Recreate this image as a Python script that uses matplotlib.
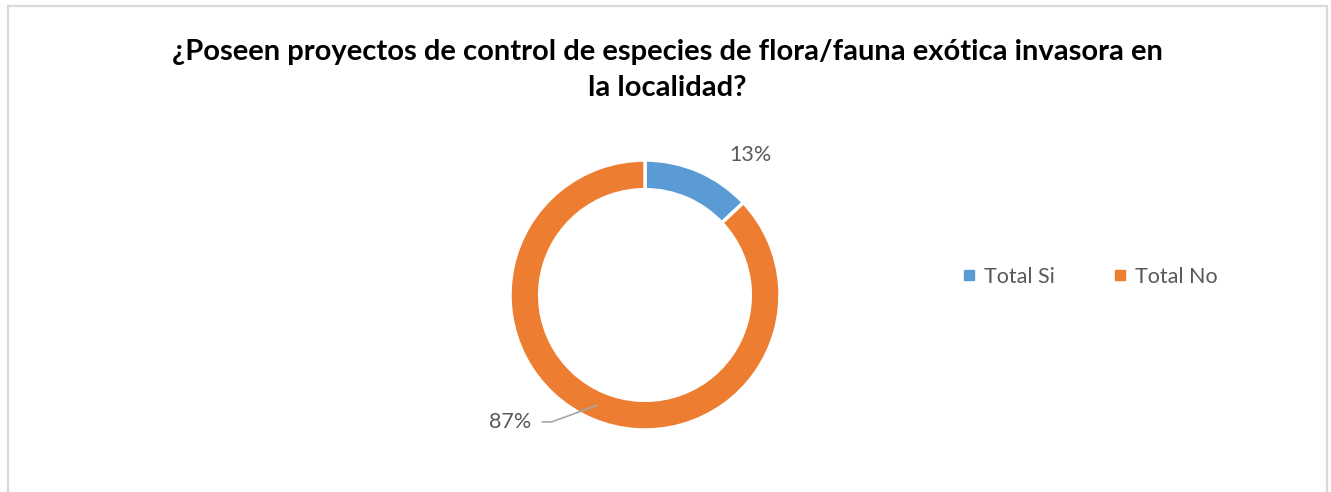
import matplotlib

matplotlib.use("Agg")

import matplotlib.pyplot as plt
import numpy as np
from matplotlib.patches import Rectangle
from matplotlib.lines import Line2D

plt.rcParams["font.family"] = ["Lato", "DejaVu Sans"]

TITLE = "¿Poseen proyectos de control de especies de flora/fauna exótica invasora en\nla localidad?"
categories = ["Total Si", "Total No"]
shares = [13, 87]
colors = ["#5B9BD5", "#ED7D31"]
label_color = "#595959"

W, H = 1331, 492
fig = plt.figure(figsize=(W / 100, H / 100), dpi=100)

# chart border (bottom edge cut off in the reference)
fig.patches.append(
    Rectangle((7.5 / W, -0.02), (1327 - 7.5) / W, 1.02 - 6.5 / H,
              transform=fig.transFigure, fill=False, edgecolor="#D9D9D9",
              linewidth=1.6, zorder=0)
)

fig.text(667 / W, 1 - 70 / H, TITLE, ha="center", va="center",
         fontsize=21, fontweight="bold", color="black", linespacing=1.5)

# donut centred at (645, 295) px, outer radius 135 px
cx, cy, R = 645, 295, 135
ax = fig.add_axes([(cx - R) / W, 1 - (cy + R) / H, 2 * R / W, 2 * R / H])
ring = 0.22
wedges, _ = ax.pie(shares, colors=colors, startangle=90, counterclock=False,
                   radius=1.0, wedgeprops={"width": ring, "edgecolor": "white", "linewidth": 2.5})
ax.set_xlim(-1, 1)
ax.set_ylim(-1, 1)
ax.set_aspect("equal")
ax.axis("off")

# data labels
for w, val in zip(wedges, shares):
    mid = np.deg2rad((w.theta1 + w.theta2) / 2)
    if val < 50:
        ax.text(0.78, 1.04, f"{val}%", ha="center", va="center",
                fontsize=15.5, color=label_color)
    else:
        rr = 1 - ring / 2
        px, py = rr * np.cos(mid), rr * np.sin(mid)
        ax.annotate(f"{val}%", xy=(px, py), xytext=(-1.0, -0.94),
                    ha="center", va="center", fontsize=15.5, color=label_color,
                    arrowprops=dict(arrowstyle="-", color="#A6A6A6", lw=1.2,
                                    connectionstyle="angle,angleA=0,angleB=20,rad=0",
                                    shrinkA=6, shrinkB=0))

handles = [Line2D([], [], marker="s", linestyle="none", markersize=7,
                  markerfacecolor=c, markeredgecolor=c) for c in colors]
fig.legend(handles, categories, loc="center", bbox_to_anchor=(1090 / W, 1 - 277 / H),
           ncol=2, frameon=False, fontsize=15.5, labelcolor=label_color,
           handlelength=0.6, handletextpad=0.4, columnspacing=2.7)

fig.savefig("out.png", dpi=100)
